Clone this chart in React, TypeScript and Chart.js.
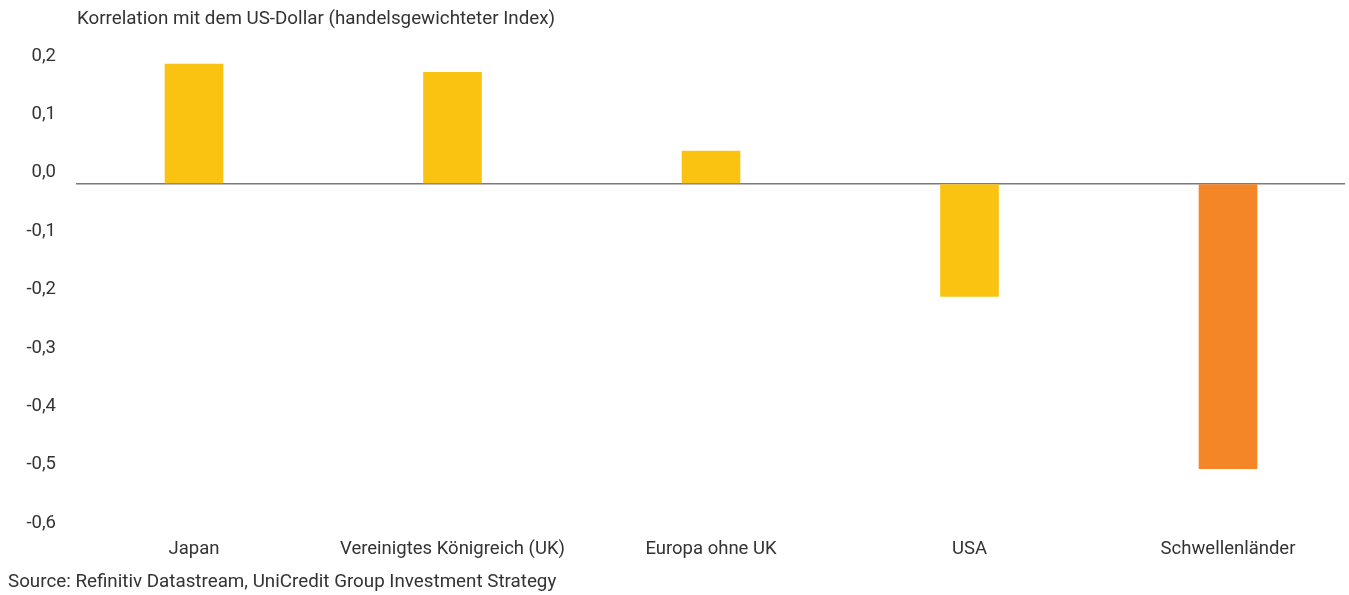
import React, { useEffect, useRef } from "react";
import { Chart, registerables } from "chart.js";

Chart.register(...registerables);

const categories = [
  "Japan",
  "Vereinigtes Königreich (UK)",
  "Europa ohne UK",
  "USA",
  "Schwellenländer",
];
const correlations = [0.205, 0.191, 0.056, -0.193, -0.488];
const barColors = ["#FAC312", "#FAC312", "#FAC312", "#FAC312", "#F58628"];
const yTickValues = [0.2, 0.1, 0, -0.1, -0.2, -0.3, -0.4, -0.5, -0.6];
const yTickLabels = ["0,2", "0,1", "0,0", "-0,1", "-0,2", "-0,3", "-0,4", "-0,5", "-0,6"];
const titleText = "Korrelation mit dem US-Dollar (handelsgewichteter Index)";
const sourceText = "Source: Refinitiv Datastream, UniCredit Group Investment Strategy";

const FONT = "Roboto, 'Noto Sans', sans-serif";
const TEXT_COLOR = "#333333";
const FONT_SIZE = 18.5;
const NOTE_FONT_SIZE = 18.8;

export default function App() {
  const canvasRef = useRef<HTMLCanvasElement | null>(null);

  useEffect(() => {
    const canvas = canvasRef.current;
    if (!canvas) return;
    const chart = new Chart(canvas, {
      type: "bar",
      data: {
        datasets: [
          {
            data: correlations.map((v, i) => ({ x: i, y: v })),
            backgroundColor: barColors,
            borderWidth: 0,
            barThickness: 58,
            clip: false as any,
          },
        ],
      },
      options: {
        responsive: false,
        animation: false,
        layout: { padding: { top: 67, right: 4, left: 0, bottom: 0 } },
        plugins: {
          legend: { display: false },
          tooltip: { enabled: false },
          title: { display: false },
        },
        scales: {
          x: {
            type: "linear",
            offset: false,
            min: -0.4565,
            max: 4.4526,
            grid: { display: false, drawTicks: false },
            border: { display: false },
            afterBuildTicks: (scale: any) => {
              scale.ticks = categories.map((_, i) => ({ value: i }));
            },
            afterFit: (scale: any) => {
              scale.height = 61;
            },
            ticks: {
              autoSkip: false,
              maxRotation: 0,
              minRotation: 0,
              padding: 4,
              color: TEXT_COLOR,
              font: { family: FONT, size: FONT_SIZE },
              callback: (v: any) => categories[Math.round(Number(v))] ?? "",
            },
          },
          y: {
            type: "linear",
            min: -0.6,
            max: 0.2,
            border: { display: false },
            grid: {
              drawTicks: false,
              lineWidth: 1.5,
              color: (ctx: any) =>
                ctx.tick && Math.abs(ctx.tick.value) < 1e-9 ? "#7a7a7a" : "rgba(0,0,0,0)",
            },
            afterBuildTicks: (scale: any) => {
              scale.ticks = yTickValues.map((v) => ({ value: v }));
            },
            afterFit: (scale: any) => {
              scale.width = 76;
            },
            ticks: {
              padding: 20,
              labelOffset: -11,
              color: TEXT_COLOR,
              font: { family: FONT, size: FONT_SIZE },
              callback: (v: any) => {
                const idx = yTickValues.findIndex((t) => Math.abs(t - Number(v)) < 1e-9);
                return idx >= 0 ? yTickLabels[idx] : "";
              },
            },
          },
        },
      },
    });
    return () => chart.destroy();
  }, []);

  const textStyle: React.CSSProperties = {
    position: "absolute",
    fontFamily: FONT,
    fontSize: NOTE_FONT_SIZE,
    lineHeight: "22px",
    color: TEXT_COLOR,
    whiteSpace: "nowrap",
  };

  return (
    <div
      style={{
        position: "fixed",
        left: 0,
        top: 0,
        width: 1349,
        height: 595,
        background: "#ffffff",
        overflow: "hidden",
      }}
    >
      <canvas
        ref={canvasRef}
        width={1349}
        height={595}
        style={{ position: "absolute", left: 0, top: 0, width: 1349, height: 595, display: "block" }}
      />
      <div style={{ ...textStyle, left: 77, top: 7 }}>{titleText}</div>
      <div style={{ ...textStyle, left: 8, top: 570 }}>{sourceText}</div>
    </div>
  );
}
